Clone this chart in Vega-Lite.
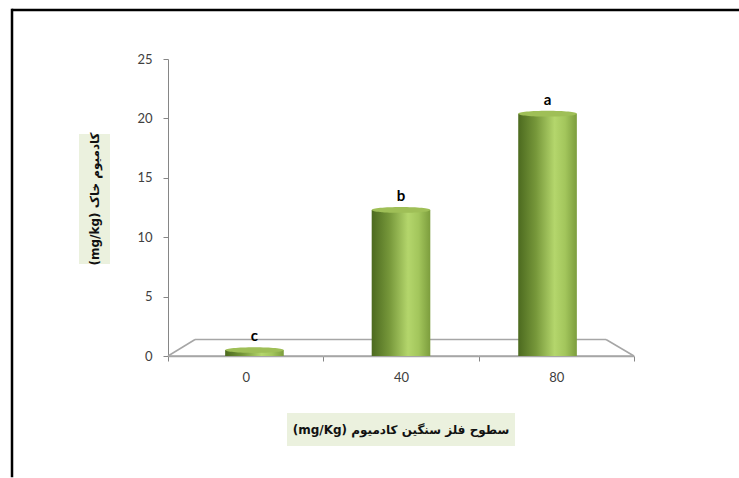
{
  "$schema": "https://vega.github.io/schema/vega-lite/v6.json",
  "padding": {"left": 10, "top": 8, "right": 0, "bottom": 0},
  "background": "#ffffff",
  "datasets": {
    "cadmium": [
      {"level": "0", "cd": 0.5, "group": "c"},
      {"level": "40", "cd": 12.3, "group": "b"},
      {"level": "80", "cd": 20.4, "group": "a"}
    ],
    "none": []
  },
  "bounds": "flush",
  "spacing": 0,
  "hconcat": [
    {
      "width": 0.01,
      "height": 466,
      "view": {"stroke": "#000000", "strokeWidth": 2.5},
      "data": {"name": "none"},
      "mark": {"type": "text"},
      "encoding": {"text": {"value": ""}}
    },
    {
      "bounds": "flush",
      "spacing": 48,
      "vconcat": [
        {
          "width": 725,
          "height": 0.01,
          "view": {"stroke": "#000000", "strokeWidth": 2.5},
          "data": {"name": "none"},
          "mark": {"type": "text"},
          "encoding": {"text": {"value": ""}}
        },
        {
          "bounds": "flush",
          "spacing": 0,
          "hconcat": [
            {
              "width": 66,
              "height": 0.01,
              "data": {"name": "none"},
              "mark": {"type": "text"},
              "encoding": {"text": {"value": ""}}
            },
            {
              "bounds": "flush",
              "spacing": 0,
              "vconcat": [
                {
                  "width": 31,
                  "height": 75,
                  "data": {"name": "none"},
                  "mark": {"type": "text"},
                  "encoding": {"text": {"value": ""}}
                },
                {
                  "width": 31,
                  "height": 130,
                  "view": {"fill": "#ebf1de", "stroke": null},
                  "data": {"values": [{}]},
                  "mark": {"type": "text", "angle": 270, "font": "DejaVu Sans", "fontSize": 12, "fontWeight": "bold", "color": "#111111"},
                  "encoding": {"text": {"value": "(mg/kg) کادمیوم خاک"}}
                }
              ]
            },
            {
              "width": 89,
              "height": 0.01,
              "data": {"name": "none"},
              "mark": {"type": "text"},
              "encoding": {"text": {"value": ""}}
            },
            {
              "bounds": "flush",
              "center": true,
              "spacing": 57,
              "vconcat": [
                {
                  "width": 466,
                  "height": 297,
                  "resolve": {"scale": {"x": "independent"}},
                  "layer": [
                    {
                      "data": {"values": [{}]},
                      "layer": [
                        {
                          "mark": {"type": "rule", "color": "#a6a6a6", "strokeWidth": 1.5},
                          "encoding": {
                            "x": {"datum": 0, "type": "quantitative", "scale": {"domain": [0, 1]}, "axis": null},
                            "x2": {"datum": 0.058},
                            "y": {"datum": 0, "type": "quantitative", "scale": {"domain": [0, 25], "nice": false}, "axis": {"values": [0, 5, 10, 15, 20, 25], "title": null, "labelPadding": 11}},
                            "y2": {"datum": 1.39}
                          }
                        },
                        {
                          "mark": {"type": "rule", "color": "#a6a6a6", "strokeWidth": 1.5},
                          "encoding": {
                            "x": {"datum": 0.058, "type": "quantitative", "scale": {"domain": [0, 1]}, "axis": null},
                            "x2": {"datum": 0.94},
                            "y": {"datum": 1.39, "type": "quantitative", "scale": {"domain": [0, 25], "nice": false}, "axis": {"values": [0, 5, 10, 15, 20, 25], "title": null, "labelPadding": 11}},
                            "y2": {"datum": 1.39}
                          }
                        },
                        {
                          "mark": {"type": "rule", "color": "#a6a6a6", "strokeWidth": 1.5},
                          "encoding": {
                            "x": {"datum": 0.94, "type": "quantitative", "scale": {"domain": [0, 1]}, "axis": null},
                            "x2": {"datum": 1},
                            "y": {"datum": 1.39, "type": "quantitative", "scale": {"domain": [0, 25], "nice": false}, "axis": {"values": [0, 5, 10, 15, 20, 25], "title": null, "labelPadding": 11}},
                            "y2": {"datum": 0}
                          }
                        }
                      ]
                    },
                    {
                      "data": {"name": "cadmium"},
                      "mark": {"type": "bar", "fill": "transparent", "stroke": "#a6a6a6", "strokeWidth": 1.5},
                      "encoding": {
                        "x": {
                          "field": "level", "type": "nominal", "sort": null,
                          "scale": {"paddingInner": 0, "paddingOuter": 0},
                          "axis": {"tickBand": "extent", "labelAngle": 0, "title": null, "labelPadding": 10, "domainColor": "#a6a6a6", "domainWidth": 1.5}
                        },
                        "y": {"datum": 0, "type": "quantitative", "scale": {"domain": [0, 25], "nice": false}, "axis": {"values": [0, 5, 10, 15, 20, 25], "title": null, "labelPadding": 11}},
                        "y2": {"datum": 0}
                      }
                    },
                    {
                      "data": {"name": "cadmium"},
                      "encoding": {
                        "x": {
                          "field": "level", "type": "nominal", "sort": null,
                          "scale": {"paddingInner": 0.6, "paddingOuter": 0.39},
                          "axis": null
                        },
                        "y": {
                          "field": "cd", "type": "quantitative",
                          "scale": {"domain": [0, 25], "nice": false},
                          "axis": {"values": [0, 5, 10, 15, 20, 25], "title": null, "labelPadding": 11}
                        }
                      },
                      "layer": [
                        {
                          "mark": {
                            "type": "bar",
                            "color": {
                              "gradient": "linear", "x1": 0, "y1": 0, "x2": 1, "y2": 0,
                              "stops": [
                                {"offset": 0, "color": "#4c6a1f"},
                                {"offset": 0.3, "color": "#76973a"},
                                {"offset": 0.62, "color": "#b4d66c"},
                                {"offset": 0.8, "color": "#a3c65c"},
                                {"offset": 1, "color": "#7c9d3d"}
                              ]
                            }
                          }
                        },
                        {
                          "mark": {
                            "type": "point",
                            "shape": "M-1,0A1,0.1,0,1,0,1,0A1,0.1,0,1,0,-1,0Z",
                            "size": 3434,
                            "filled": true,
                            "color": "#9fbf57",
                            "opacity": 1,
                            "strokeWidth": 0
                          }
                        },
                        {
                          "mark": {"type": "text", "dy": -6, "baseline": "bottom", "font": "Lato", "fontSize": 15, "fontWeight": "bold", "color": "#000000"},
                          "encoding": {"text": {"field": "group"}}
                        }
                      ]
                    }
                  ]
                },
                {
                  "width": 228,
                  "height": 33,
                  "view": {"fill": "#ebf1de", "stroke": null},
                  "data": {"values": [{}]},
                  "mark": {"type": "text", "font": "DejaVu Sans", "fontSize": 12, "fontWeight": "bold", "color": "#111111"},
                  "encoding": {"text": {"value": "(mg/Kg) سطوح فلز سنگین کادمیوم"}}
                }
              ]
            }
          ]
        }
      ]
    }
  ],
  "config": {
    "view": {"stroke": null},
    "font": "Lato",
    "axis": {
      "grid": false,
      "domainColor": "#868686",
      "tickColor": "#868686",
      "tickSize": 5,
      "labelFont": "Lato",
      "labelFontSize": 13,
      "labelColor": "#404040"
    }
  }
}
